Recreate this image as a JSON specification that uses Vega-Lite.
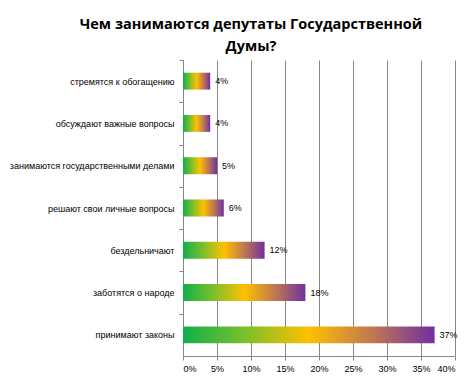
{
  "$schema": "https://vega.github.io/schema/vega-lite/v6.json",
  "autosize": "none",
  "width": 272,
  "height": 296,
  "padding": {"left": 183, "top": 60, "right": 20, "bottom": 26},
  "background": "white",
  "title": {
    "text": ["Чем занимаются депутаты Государственной", "Думы?"],
    "font": "Open Sans",
    "fontSize": 14.5,
    "fontWeight": "bold",
    "color": "#000000",
    "anchor": "middle",
    "frame": "group",
    "dx": -68,
    "offset": 5,
    "lineHeight": 22
  },
  "data": {
    "values": [
      {"cat": "стремятся к обогащению", "v": 0.04, "lbl": "4%"},
      {"cat": "обсуждают важные вопросы", "v": 0.04, "lbl": "4%"},
      {"cat": "занимаются государственными делами", "v": 0.05, "lbl": "5%"},
      {"cat": "решают свои личные вопросы", "v": 0.06, "lbl": "6%"},
      {"cat": "бездельничают", "v": 0.12, "lbl": "12%"},
      {"cat": "заботятся о народе", "v": 0.18, "lbl": "18%"},
      {"cat": "принимают законы", "v": 0.37, "lbl": "37%"}
    ]
  },
  "encoding": {
    "y": {
      "field": "cat",
      "type": "nominal",
      "sort": null,
      "scale": {"paddingInner": 0.6, "paddingOuter": 0.3},
      "axis": {
        "title": null,
        "labelFont": "Liberation Sans",
        "labelFontSize": 9,
        "labelColor": "#000000",
        "labelPadding": 5,
        "labelLimit": 200,
        "domainColor": "#868686",
        "tickColor": "#868686",
        "tickSize": 4,
        "tickOffset": -21.15,
        "labelOffset": 21.15,
        "grid": false
      }
    },
    "x": {
      "field": "v",
      "type": "quantitative",
      "scale": {"domain": [0, 0.4], "nice": false},
      "axis": {
        "title": null,
        "format": ".0%",
        "values": [0, 0.05, 0.1, 0.15, 0.2, 0.25, 0.3, 0.35, 0.4],
        "labelFont": "Liberation Sans",
        "labelFontSize": 9,
        "labelColor": "#000000",
        "labelPadding": 4,
        "domainColor": "#868686",
        "tickColor": "#868686",
        "tickSize": 4,
        "grid": true,
        "gridColor": "#868686",
        "gridWidth": 1
      }
    }
  },
  "layer": [
    {
      "mark": {
        "type": "bar",
        "fill": {
          "gradient": "linear",
          "x1": 0, "y1": 0, "x2": 1, "y2": 0,
          "stops": [
            {"offset": 0, "color": "#10b04a"},
            {"offset": 0.25, "color": "#7cc02a"},
            {"offset": 0.5, "color": "#ffc000"},
            {"offset": 0.75, "color": "#c07850"},
            {"offset": 1, "color": "#7030a0"}
          ]
        }
      }
    },
    {
      "mark": {
        "type": "text",
        "align": "left",
        "dx": 5,
        "font": "Liberation Sans",
        "fontSize": 9,
        "fill": "#000000"
      },
      "encoding": {"text": {"field": "lbl"}}
    }
  ],
  "config": {"view": {"stroke": null}}
}
